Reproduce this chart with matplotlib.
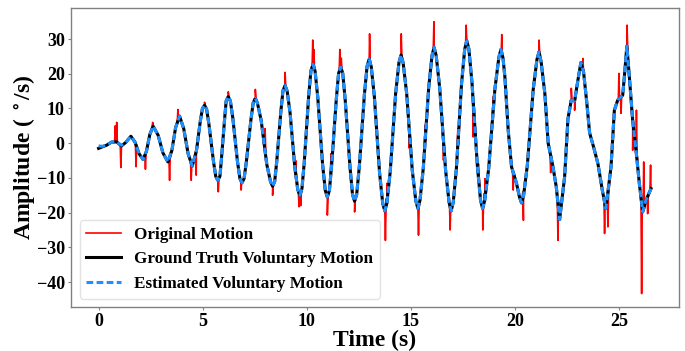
import numpy as np
import matplotlib
matplotlib.use("Agg")
import matplotlib.pyplot as plt

plt.rcParams["font.family"] = ["Liberation Serif", "DejaVu Serif"]
plt.rcParams["font.weight"] = "bold"
plt.rcParams["mathtext.fontset"] = "stix"

# Ground-truth voluntary motion (time in s, angular velocity in deg/s)
gt_time = [0.00, 0.20, 0.38, 0.62, 0.86, 1.10, 1.30, 1.55, 1.75, 1.94,
           2.14, 2.30, 2.46, 2.62, 2.86, 3.09, 3.33, 3.52, 3.70, 3.89,
           4.09, 4.30, 4.50, 4.70, 4.89, 5.09, 5.30, 5.52, 5.73, 5.90,
           6.06, 6.23, 6.45, 6.67, 6.89, 7.10, 7.32, 7.53, 7.81, 8.08,
           8.36, 8.56, 8.76, 8.96, 9.20, 9.43, 9.67, 9.88, 10.09, 10.30,
           10.53, 10.76, 10.99, 11.20, 11.42, 11.63, 11.85, 12.08, 12.30, 12.53,
           12.77, 13.00, 13.25, 13.50, 13.75, 14.01, 14.27, 14.53, 14.80, 15.07,
           15.34, 15.60, 15.86, 16.12, 16.39, 16.67, 16.94, 17.19, 17.44, 17.69,
           17.94, 18.20, 18.45, 18.74, 19.04, 19.33, 19.52, 19.68, 19.84, 20.08,
           20.32, 20.60, 20.88, 21.16, 21.44, 21.60, 21.83, 21.99, 22.15, 22.39,
           22.55, 22.71, 22.87, 23.03, 23.17, 23.30, 23.45, 23.59, 23.80, 23.99,
           24.20, 24.37, 24.62, 24.78, 24.94, 25.18, 25.26, 25.38, 25.50, 25.66,
           25.82, 25.98, 26.14, 26.30, 26.54]
gt_value = [-1.5, -1.0, -0.6, 0.3, 0.4, -0.8, 0.2, 2.0, 0.3, -3.0,
            -4.7, -2.3, 2.5, 4.9, 2.3, -2.8, -5.4, -2.1, 4.5, 7.8,
            4.2, -3.0, -6.6, -2.2, 6.5, 10.9, 5.5, -5.3, -10.7, -4.7,
            7.4, 13.4, 7.2, -5.2, -11.4, -5.3, 6.8, 12.9, 6.6, -6.1,
            -12.4, -5.2, 9.4, 16.6, 8.7, -7.1, -15.0, -5.6, 13.3, 22.7,
            13.2, -6.0, -15.5, -6.1, 12.6, 22.0, 12.3, -7.0, -16.7, -6.5,
            14.0, 24.2, 13.3, -8.6, -19.5, -8.3, 14.2, 25.4, 14.4, -7.8,
            -18.8, -7.2, 16.0, 27.6, 15.8, -7.7, -19.5, -7.3, 17.3, 29.5,
            17.4, -6.7, -18.8, -7.4, 15.6, 27.0, 19.1, 3.7, -6.8, -11.6,
            -17.2, -6.3, 15.4, 26.3, 14.3, 0.0, -6.8, -12.6, -22.0, -9.7,
            7.0, 12.4, 12.2, 18.2, 23.2, 20.5, 12.0, 3.0, -1.5, -5.9,
            -13.5, -18.8, -6.8, 9.5, 12.4, 13.8, 19.1, 28.0, 19.1, 6.6,
            -2.0, -11.6, -19.8, -16.4, -13.1]

# Extra readings on the shoulders of each crest and trough
crest_time = [4.99, 5.19, 5.63, 5.83, 6.13, 6.33, 6.79, 6.99, 7.43, 7.63,
              8.26, 8.46, 8.86, 9.06, 9.57, 9.77, 10.20, 10.40, 10.89, 11.09,
              11.53, 11.73, 12.20, 12.40, 12.90, 13.10, 13.65, 13.85, 14.43, 14.63,
              15.24, 15.44, 16.02, 16.22, 16.84, 17.04, 17.59, 17.79, 18.35, 18.55,
              19.23, 19.43, 20.22, 20.42, 21.06, 21.26]
crest_value = [10.0, 9.8, -9.6, -9.5, 12.2, 12.2, -10.2, -10.2, 11.7, 11.6,
               -11.1, -11.0, 15.2, 15.0, -13.4, -13.1, 20.8, 20.8, -13.6, -13.6,
               20.1, 20.1, -14.8, -14.7, 22.2, 22.0, -17.3, -17.3, 23.2, 23.2,
               -16.6, -16.5, 25.3, 25.2, -17.1, -17.0, 27.1, 27.1, -16.4, -16.5,
               24.7, 24.5, -15.5, -15.0, 24.1, 23.5]

# Estimated voluntary motion (filter output); differs only at the start
est_start = [-0.8, -0.9, -0.5, 0.3, 0.4, -0.6, 0.2, 2.0]

# Tremor bursts in the raw signal: time, peak value, local baseline
spike_time = [0.80, 0.87, 1.07, 1.80, 2.25, 2.60, 3.41, 3.81, 4.45, 4.69,
              5.09, 5.75, 6.23, 6.85, 7.53, 8.00, 8.36, 8.96, 9.47, 9.63,
              9.71, 10.29, 10.34, 10.99, 11.17, 11.59, 11.66, 12.30, 13.02, 13.78,
              13.85, 14.54, 14.93, 15.37, 15.69, 16.11, 16.57, 16.89, 17.26, 17.66,
              18.00, 18.25, 18.46, 18.56, 19.00, 19.37, 19.92, 20.41, 21.16, 21.72,
              22.07, 22.71, 22.87, 23.27, 24.31, 24.47, 25.00, 25.10, 25.39, 25.66,
              25.84, 26.09, 26.19, 26.38, 26.52]
spike_value = [5.0, 6.0, -7.0, -6.8, -7.5, 6.0, -10.7, 9.7, -10.7, -9.2,
               11.8, -14.0, 14.8, -13.5, 15.5, 4.2, -15.0, 20.4, -5.0, -18.3,
               -18.0, 29.7, 27.0, -20.7, -3.0, 27.0, 24.5, -19.8, 31.5, -28.0,
               -11.6, 31.5, -1.5, -26.5, 5.2, 35.0, -4.9, -25.0, 4.2, 34.0,
               1.8, -5.9, -25.0, -10.2, 10.5, 31.3, -13.5, -22.2, 29.7, -8.5,
               -28.0, 15.8, 9.5, 24.4, -26.0, -24.1, 20.1, 8.6, 34.0, -2.0,
               9.5, -43.3, -5.4, -20.3, -6.3]
spike_base = [0.2, 0.4, -0.7, -0.5, -3.2, 4.7, -4.5, 6.3, -5.8, -2.4,
              10.9, -10.5, 13.4, -10.5, 12.9, -2.3, -12.4, 16.6, -8.5, -14.5,
              -14.6, 22.6, 22.3, -15.5, -7.4, 21.0, 21.5, -16.7, 24.0, -19.0,
              -16.0, 25.3, 3.7, -18.5, 0.8, 27.4, 0.7, -18.0, -0.4, 28.2,
              11.8, -9.0, -18.8, -14.5, 13.5, 25.5, -8.4, -14.0, 26.3, -3.5,
              -17.0, 12.4, 12.2, 21.0, -16.5, -15.0, 12.8, 13.4, 27.5, 6.6,
              -3.0, -17.5, -19.0, -15.6, -13.3]


def merged(times_a, values_a, times_b, values_b):
    t = np.asarray(list(times_a) + list(times_b), dtype=float)
    y = np.asarray(list(values_a) + list(values_b), dtype=float)
    order = np.argsort(t, kind="stable")
    return t[order], y[order]


vol_t, vol_y = merged(gt_time, gt_value, crest_time, crest_value)
est_t, est_y = merged(gt_time, est_start + gt_value[len(est_start):],
                      crest_time, crest_value)

# Original (raw) motion = voluntary trajectory with the tremor bursts
half_w = 0.03
burst_t, burst_y = [], []
for t, v, b in zip(spike_time, spike_value, spike_base):
    burst_t += [t - half_w, t, t + half_w]
    burst_y += [b, v, b]
raw_t, raw_y = merged(vol_t, vol_y, burst_t, burst_y)

fig = plt.figure(figsize=(6.85, 3.51), dpi=100)
ax = fig.add_axes([0.1036, 0.125, 0.8874, 0.852])

ax.plot(raw_t, raw_y, color="#ff0000", lw=1.2, label="Original Motion")
ax.plot(vol_t, vol_y, color="black", lw=2.2, label="Ground Truth Voluntary Motion")
ax.plot(est_t, est_y, color="#1e90ff", lw=2.2, ls=(0, (2.2, 1.1)),
        label="Estimated Voluntary Motion")

ax.set_xticks([0, 5, 10, 15, 20, 25])
ax.set_yticks([-40, -30, -20, -10, 0, 10, 20, 30])
ax.tick_params(axis="both", labelsize=13, length=2.5, color="#808080", width=0.8, pad=2)
for lab in ax.get_xticklabels() + ax.get_yticklabels():
    lab.set_fontweight("bold")
for sp in ax.spines.values():
    sp.set_color("#808080")
    sp.set_linewidth(1.0)

ax.set_xlabel("Time (s)", fontsize=17, fontweight="bold", labelpad=-0.5)
ax.set_ylabel("Amplitude ( $^\\circ$/s)", fontsize=17, fontweight="bold", labelpad=0)

leg = ax.legend(loc="lower left", frameon=True, fancybox=True,
                prop={"weight": "bold", "size": 12.3})
leg.get_frame().set_edgecolor("#dddddd")

fig.savefig("out.png", dpi=100)
